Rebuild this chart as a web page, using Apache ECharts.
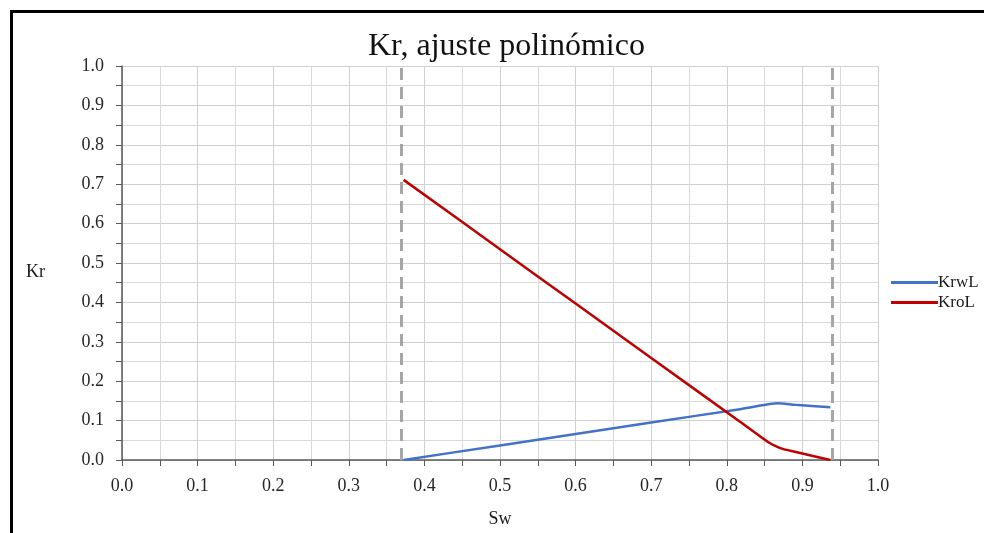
<!DOCTYPE html>
<html>
<head>
<meta charset="utf-8">
<script src="https://cdn.jsdelivr.net/npm/echarts@6/dist/echarts.min.js"></script>
<style>
html,body{margin:0;padding:0;background:#fff;}
#c{width:984px;height:533px;}
</style>
</head>
<body>
<div id="c"></div>
<script>
// Data
const swKrw = [0.3725, 0.50, 0.60, 0.70, 0.8175, 0.868, 0.89, 0.937];
const krwL  = [0.000, 0.037, 0.066, 0.095, 0.129, 0.144, 0.140, 0.134];
const swKro = [0.3725, 0.50, 0.60, 0.70, 0.8175, 0.855, 0.866, 0.876, 0.89, 0.937];
const kroL  = [0.711, 0.535, 0.397, 0.259, 0.097, 0.045, 0.034, 0.027, 0.021, 0.000];
const limits = [0.3725, 0.9375];

const serif = "'Liberation Serif', 'DejaVu Serif', serif";
const chart = echarts.init(document.getElementById('c'));
const pairs = (xs, ys) => xs.map((x, i) => [x, ys[i]]);

chart.setOption({
  animation: false,
  title: {
    text: 'Kr, ajuste polinómico',
    left: 363, top: 26,
    textStyle: {fontFamily: serif, fontSize: 32, fontWeight: 'normal', color: '#111'}
  },
  graphic: [{
    type: 'rect', silent: true,
    shape: {x: 11.5, y: 11.5, width: 1000, height: 600},
    style: {fill: 'none', stroke: '#000', lineWidth: 3}
  }],
  legend: {
    orient: 'vertical', left: 886, top: 269,
    itemWidth: 47, itemHeight: 3, itemGap: 3,
    icon: 'rect',
    textStyle: {fontFamily: serif, fontSize: 17, color: '#1a1a1a', padding: [0,0,0,-5]},
    data: ['KrwL', 'KroL']
  },
  grid: {left: 122, right: 106, top: 66, bottom: 73},
  xAxis: {
    type: 'value', min: 0, max: 1, interval: 0.1,
    name: 'Sw', nameLocation: 'middle', nameGap: 50,
    nameTextStyle: {fontFamily: serif, fontSize: 18, color: '#1a1a1a'},
    axisLine: {lineStyle: {color: '#595959', width: 1.5}},
    axisTick: {show: true, length: 6, lineStyle: {color: '#595959'}},
    minorTick: {show: true, splitNumber: 2, length: 6, lineStyle: {color: '#595959'}},
    axisLabel: {fontFamily: serif, fontSize: 18, color: '#262626', margin: 17,
      formatter: v => v.toFixed(1)},
    splitLine: {show: true, lineStyle: {color: '#d0d0d0', width: 1}},
    minorSplitLine: {show: true, lineStyle: {color: '#d9d9d9', width: 1}}
  },
  yAxis: {
    type: 'value', min: 0, max: 1, interval: 0.1,
    name: '\nKr', nameLocation: 'middle', nameGap: 77, nameRotate: 0,
    nameTextStyle: {fontFamily: serif, fontSize: 18, lineHeight: 18, color: '#1a1a1a'},
    axisLine: {show: true, lineStyle: {color: '#595959', width: 1.5}},
    axisTick: {show: true, length: 6, lineStyle: {color: '#595959'}},
    minorTick: {show: true, splitNumber: 2, length: 6, lineStyle: {color: '#595959'}},
    axisLabel: {fontFamily: serif, fontSize: 18, color: '#262626', margin: 18,
      formatter: v => v.toFixed(1)},
    splitLine: {show: true, lineStyle: {color: '#d0d0d0', width: 1}},
    minorSplitLine: {show: true, lineStyle: {color: '#d9d9d9', width: 1}}
  },
  series: [
    {
      name: 'KrwL', type: 'line', showSymbol: false, smooth: 0.2,
      color: '#4472c4', lineStyle: {width: 2.5, color: '#4472c4'},
      data: pairs(swKrw, krwL),
      markLine: {
        silent: true, symbol: 'none', label: {show: false},
        lineStyle: {type: [12, 7], color: '#a6a6a6', width: 3},
        data: limits.map(v => ({xAxis: v}))
      },
      z: 3
    },
    {
      name: 'KroL', type: 'line', showSymbol: false, smooth: 0.2,
      color: '#c00000', lineStyle: {width: 2.5, color: '#c00000'},
      data: pairs(swKro, kroL),
      z: 4
    }
  ]
});
</script>
</body>
</html>
